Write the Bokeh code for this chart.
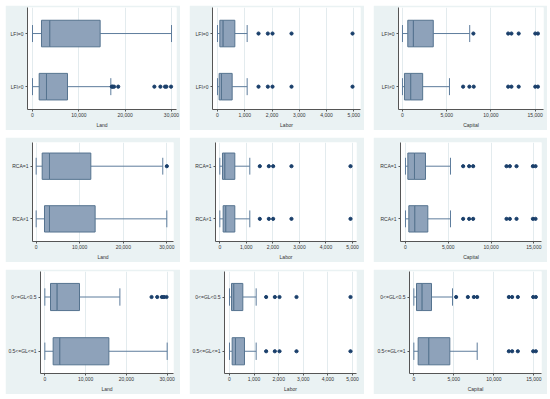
from bokeh.plotting import figure
from bokeh.layouts import row, column
from bokeh.models import Range1d, FixedTicker, NumeralTickFormatter
from bokeh.embed import file_html
from bokeh.resources import INLINE

# ---------------- data ----------------
lfi_labels = ["LFI=0", "LFI\u22600"]          # top, bottom
rca_labels = ["RCA=1", "RCA\u22601"]
gl_labels = ["0<=GL<0.5", "0.5<=GL<=1"]

land_ticks = [0, 10000, 20000, 30000]
labor_ticks = [0, 1000, 2000, 3000, 4000, 5000]
capital_ticks = [0, 5000, 10000, 15000]

# box stats: [lower whisker, q1, median, q3, upper whisker]
land_lfi_top = [0, 1940, 3740, 14600, 30000]
land_lfi_bot = [0, 1440, 3020, 7550, 16900]
land_lfi_top_out = []
land_lfi_bot_out = [17100, 17300, 17600, 18500, 26300, 27600, 28600, 28900, 29900]

labor_lfi_top = [0, 86, 208, 636, 1088]
labor_lfi_bot = [0, 61, 147, 538, 1088]
labor_lfi_top_out = [1504, 1846, 2017, 2714, 4951]
labor_lfi_bot_out = [1504, 1846, 2017, 2714, 4951]

capital_lfi_top = [0, 600, 1235, 3480, 7595]
capital_lfi_bot = [0, 225, 935, 2280, 5310]
capital_lfi_top_out = [8010, 11940, 12310, 13130, 15000, 15300]
capital_lfi_bot_out = [6850, 7560, 8050, 11940, 12310, 13130, 15000, 15300]

land_rca_top = [0, 1380, 3060, 12550, 29070]
land_rca_bot = [0, 1910, 3060, 13540, 30000]
land_rca_top_out = [30000]
land_rca_bot_out = []

labor_rca_top = [0, 100, 190, 565, 1130]
labor_rca_bot = [0, 125, 226, 565, 1130]
labor_rca_top_out = [1507, 1847, 2010, 2700, 4925]
labor_rca_bot_out = [1507, 1847, 2010, 2700, 4925]

capital_rca_top = [0, 273, 1052, 2338, 5260]
capital_rca_bot = [0, 390, 1091, 2610, 5260]
capital_rca_top_out = [6740, 7440, 7910, 11810, 12200, 12980, 14890, 15200]
capital_rca_bot_out = [6740, 7440, 7910, 11810, 12200, 12980, 14890, 15200]

land_gl_top = [0, 1390, 3025, 8500, 18400]
land_gl_bot = [0, 2040, 3680, 15700, 30000]
land_gl_top_out = [26170, 27560, 28700, 29190, 29840]
land_gl_bot_out = []

labor_gl_top = [0, 81, 176, 542, 1084]
labor_gl_bot = [0, 108, 244, 610, 1084]
labor_gl_top_out = [1490, 1843, 2033, 2724, 4919]
labor_gl_bot_out = [1490, 1843, 2033, 2724, 4919]

capital_gl_top = [0, 333, 1040, 2208, 4833]
capital_gl_bot = [0, 540, 1875, 4500, 7920]
capital_gl_top_out = [5290, 6750, 7500, 7920, 11875, 12290, 13000, 14920, 15250]
capital_gl_bot_out = [11875, 12290, 13000, 14920, 15250]

# ---------------- style ----------------
BG = "#EAF2F3"
BOX_FILL = "#8EA2BA"
BOX_LINE = "#55738F"
WHISK = "#5D7C9C"
DOT = "#1A3F6B"
AXIS = "#555555"
TXT = "#333333"
FONT = "Liberation Sans"


def make_panel(xlabel, ticks, labels, top, bot, top_out, bot_out,
               xr, yr, width, height, bl, br, bt, bb):
    p = figure(width=width, height=height,
               x_range=Range1d(*xr), y_range=Range1d(*yr),
               output_backend="svg", toolbar_location=None,
               min_border_left=bl, min_border_right=br,
               min_border_top=bt, min_border_bottom=bb)
    p.border_fill_color = BG
    p.background_fill_color = "white"
    p.outline_line_color = None

    for y, s, out in [(1, top, top_out), (0, bot, bot_out)]:
        p.segment(x0=[s[0], s[3]], y0=[y, y], x1=[s[1], s[4]], y1=[y, y],
                  line_color=WHISK, line_width=1)
        p.segment(x0=[s[0], s[4]], y0=[y - 0.16, y - 0.16],
                  x1=[s[0], s[4]], y1=[y + 0.16, y + 0.16],
                  line_color=WHISK, line_width=1)
        p.quad(left=[s[1], s[2]], right=[s[2], s[3]],
               bottom=[y - 0.25, y - 0.25], top=[y + 0.25, y + 0.25],
               fill_color=BOX_FILL, line_color=BOX_LINE, line_width=1)
        if out:
            p.scatter(x=out, y=[y] * len(out), size=3.2, marker="circle",
                      fill_color=DOT, line_color=DOT)

    xa = p.xaxis[0]
    xa.ticker = FixedTicker(ticks=ticks)
    xa.formatter = NumeralTickFormatter(format="0,0")
    xa.axis_label = xlabel
    xa.axis_label_text_font = FONT
    xa.axis_label_text_font_size = "5px"
    xa.axis_label_text_font_style = "normal"
    xa.axis_label_text_color = TXT
    xa.axis_label_standoff = 2
    xa.major_label_text_font = FONT
    xa.major_label_text_font_size = "5px"
    xa.major_label_text_color = TXT
    xa.major_label_standoff = 1
    xa.major_tick_out = 2
    xa.major_tick_in = 0
    xa.minor_tick_out = 0
    xa.minor_tick_in = 0
    xa.axis_line_color = AXIS
    xa.major_tick_line_color = AXIS

    ya = p.yaxis[0]
    ya.ticker = FixedTicker(ticks=[0, 1])
    ya.major_label_overrides = {0: labels[1], 1: labels[0]}
    ya.major_label_text_font = FONT
    ya.major_label_text_font_size = "5px"
    ya.major_label_text_color = TXT
    ya.major_label_standoff = 2
    ya.major_tick_out = 2
    ya.major_tick_in = 0
    ya.minor_tick_out = 0
    ya.minor_tick_in = 0
    ya.axis_line_color = AXIS
    ya.major_tick_line_color = AXIS

    p.xgrid.ticker = FixedTicker(ticks=ticks)
    p.xgrid.grid_line_color = "#E3EBEE"
    p.ygrid.visible = False
    return p


W, H = 175, 125
r1y = (-0.43, 1.49)
r2y = (-0.43, 1.45)
r3y = (-0.41, 1.47)

p1 = make_panel("Land", land_ticks, lfi_labels, land_lfi_top, land_lfi_bot,
                land_lfi_top_out, land_lfi_bot_out, (-1079, 31075), r1y, W, H, 22, 4, 2, 15)
p2 = make_panel("Labor", labor_ticks, lfi_labels, labor_lfi_top, labor_lfi_bot,
                labor_lfi_top_out, labor_lfi_bot_out, (-183, 5243), r1y, W, H, 23, 4, 2, 15)
p3 = make_panel("Capital", capital_ticks, lfi_labels, capital_lfi_top, capital_lfi_bot,
                capital_lfi_top_out, capital_lfi_bot_out, (-449, 15932), r1y, 174, H, 25, 4, 2, 15)

p4 = make_panel("Land", land_ticks, rca_labels, land_rca_top, land_rca_bot,
                land_rca_top_out, land_rca_bot_out, (-842, 31532), r2y, W, H, 27, 7, 5, 16)
p5 = make_panel("Labor", labor_ticks, rca_labels, labor_rca_top, labor_rca_bot,
                labor_rca_top_out, labor_rca_bot_out, (-163, 5151), r2y, W, H, 26, 8, 5, 16)
p6 = make_panel("Capital", capital_ticks, rca_labels, capital_rca_top, capital_rca_bot,
                capital_rca_top_out, capital_rca_bot_out, (-584, 15899), r2y, 174, H, 27, 6, 5, 16)

p7 = make_panel("Land", land_ticks, gl_labels, land_gl_top, land_gl_bot,
                land_gl_top_out, land_gl_bot_out, (-1063, 31549), r3y, W, H, 35, 7, 2, 19)
p8 = make_panel("Labor", labor_ticks, gl_labels, labor_gl_top, labor_gl_bot,
                labor_gl_top_out, labor_gl_bot_out, (-203, 5163), r3y, W, H, 35, 8, 2, 19)
p9 = make_panel("Capital", capital_ticks, gl_labels, capital_gl_top, capital_gl_bot,
                capital_gl_top_out, capital_gl_bot_out, (-542, 15958), r3y, 174, H, 36, 6, 2, 19)

layout = column(
    row(p1, p2, p3, spacing=9),
    row(p4, p5, p6, spacing=9),
    row(p7, p8, p9, spacing=9),
    spacing=7,
    margin=(5, 0, 0, 5),
)

open("out.html", "w").write(file_html(layout, INLINE))
